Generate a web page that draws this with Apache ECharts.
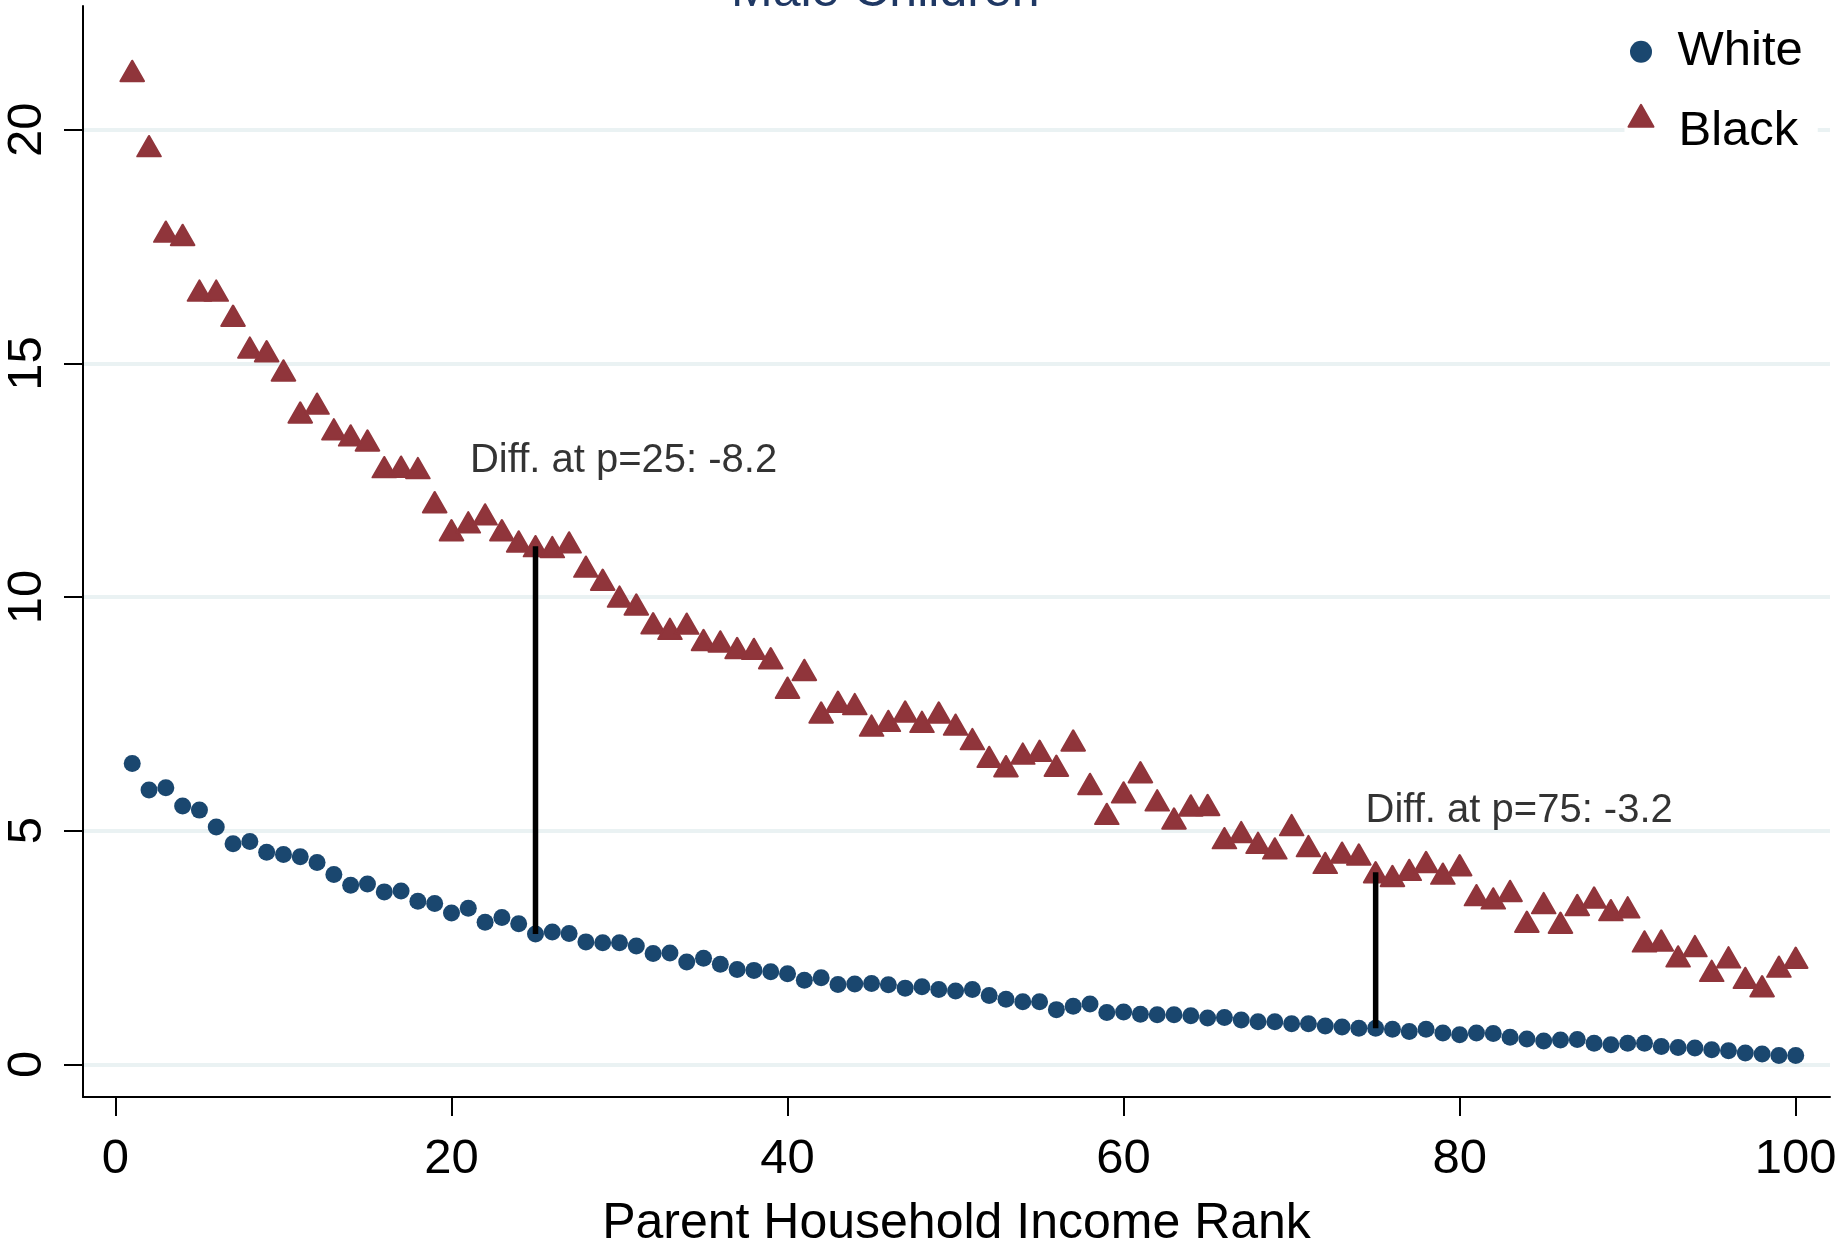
<!DOCTYPE html>
<html><head><meta charset="utf-8">
<script src="https://cdn.jsdelivr.net/npm/echarts@6/dist/echarts.min.js"></script>
<style>html,body{margin:0;padding:0;background:#fff}#c{width:1845px;height:1254px}</style>
</head><body><div id="c"></div>
<script>
const ranks = [1,2,3,4,5,6,7,8,9,10,11,12,13,14,15,16,17,18,19,20,
21,22,23,24,25,26,27,28,29,30,31,32,33,34,35,36,37,38,39,40,
41,42,43,44,45,46,47,48,49,50,51,52,53,54,55,56,57,58,59,60,
61,62,63,64,65,66,67,68,69,70,71,72,73,74,75,76,77,78,79,80,
81,82,83,84,85,86,87,88,89,90,91,92,93,94,95,96,97,98,99,100];

const whiteVals = [
6.44, 5.87, 5.92, 5.53, 5.44, 5.08, 4.72, 4.77, 4.54, 4.49,
4.44, 4.32, 4.06, 3.83, 3.86, 3.69, 3.71, 3.49, 3.44, 3.24,
3.34, 3.04, 3.14, 3.01, 2.79, 2.83, 2.80, 2.62, 2.60, 2.60,
2.53, 2.37, 2.38, 2.19, 2.27, 2.14, 2.03, 2.01, 1.98, 1.94,
1.80, 1.85, 1.71, 1.72, 1.73, 1.70, 1.63, 1.66, 1.60, 1.57,
1.60, 1.47, 1.39, 1.34, 1.34, 1.17, 1.24, 1.29, 1.11, 1.12,
1.07, 1.06, 1.06, 1.04, 0.99, 1.00, 0.95, 0.91, 0.91, 0.87,
0.87, 0.82, 0.80, 0.77, 0.77, 0.75, 0.70, 0.75, 0.67, 0.63,
0.67, 0.66, 0.58, 0.54, 0.50, 0.52, 0.53, 0.45, 0.42, 0.45,
0.45, 0.38, 0.36, 0.35, 0.31, 0.29, 0.24, 0.22, 0.19, 0.19];

const blackVals = [
21.26, 19.65, 17.82, 17.75, 16.56, 16.56, 16.02, 15.34, 15.26, 14.85,
13.95, 14.14, 13.59, 13.46, 13.35, 12.78, 12.79, 12.76, 12.03, 11.43,
11.60, 11.77, 11.43, 11.19, 11.09, 11.07, 11.17, 10.65, 10.37, 10.01,
9.84, 9.44, 9.32, 9.43, 9.08, 9.05, 8.91, 8.89, 8.69, 8.06,
8.44, 7.53, 7.76, 7.71, 7.25, 7.35, 7.55, 7.33, 7.53, 7.27,
6.96, 6.58, 6.38, 6.65, 6.71, 6.39, 6.93, 6.00, 5.36, 5.82,
6.25, 5.65, 5.26, 5.54, 5.55, 4.84, 4.97, 4.74, 4.62, 5.12,
4.67, 4.31, 4.53, 4.49, 4.11, 4.03, 4.16, 4.33, 4.08, 4.26,
3.62, 3.55, 3.71, 3.05, 3.45, 3.03, 3.41, 3.57, 3.30, 3.36,
2.63, 2.65, 2.31, 2.53, 2.00, 2.29, 1.85, 1.67, 2.09, 2.28];

const xTicks = [0, 20, 40, 60, 80, 100];
const yTicks = [0, 5, 10, 15, 20];
const diffRanks = [25, 75];
const annotX = [21.1, 74.4];
const annotY = [12.91, 5.43];
const annotText = ['Diff. at p=25: -8.2', 'Diff. at p=75: -3.2'];
const seriesNames = ['White', 'Black'];
const titleText = 'Male Children';
const xTitle = 'Parent Household Income Rank';

const FONT = '"Liberation Sans", Arial, Helvetica, sans-serif';
const NAVY = '#1a476f';
const MAROON = '#90353b';

const chart = echarts.init(document.getElementById('c'), null, {renderer: 'canvas'});

const diffSeries = diffRanks.map(function (p) {
  const i = ranks.indexOf(p);
  return {
    type: 'line', silent: true, symbol: 'none', z: 5,
    lineStyle: {color: '#000', width: 5.5},
    data: [[p, whiteVals[i]], [p, blackVals[i]]]
  };
});

chart.setOption({
  animation: false,
  backgroundColor: '#fff',
  textStyle: {fontFamily: FONT},
  title: {
    text: titleText, left: 726, top: -38,
    textStyle: {fontSize: 50, fontWeight: 'normal', color: '#1f3864', fontFamily: FONT}
  },
  grid: {left: 83, right: 15, top: 6, bottom: 154},
  legend: {
    data: seriesNames,
    orient: 'vertical', left: 1624.5, top: 15.2,
    padding: [12, 15, 12, 3], itemGap: 15.1, itemWidth: 25, itemHeight: 22,
    backgroundColor: '#fff', z: 10,
    formatter: function (name) {
      return name === seriesNames[1] ? '{s| }{t|' + name + '}' : '{t|' + name + '}';
    },
    textStyle: {
      fontSize: 49, fontFamily: FONT, color: '#000', padding: [0, 0, 0, 19],
      rich: {
        s: {width: 1, lineHeight: 80, fontSize: 49, verticalAlign: 'middle'},
        t: {fontSize: 49, lineHeight: 49, fontFamily: FONT, color: '#000', verticalAlign: 'bottom'}
      }
    }
  },
  xAxis: {
    type: 'value', min: -1.93, max: 102.04,
    name: xTitle, nameLocation: 'middle', nameGap: 102,
    nameTextStyle: {fontSize: 50, fontFamily: FONT, color: '#000'},
    axisLine: {show: true, onZero: false, lineStyle: {color: '#000', width: 2}},
    axisTick: {show: true, length: 19, customValues: xTicks, lineStyle: {color: '#000', width: 2}},
    axisLabel: {customValues: xTicks, margin: 38, fontSize: 49, color: '#000', fontFamily: FONT},
    splitLine: {show: false}
  },
  yAxis: {
    type: 'value', min: -0.70, max: 22.65,
    axisLine: {show: true, onZero: false, lineStyle: {color: '#000', width: 2}},
    axisTick: {show: true, length: 19, customValues: yTicks, lineStyle: {color: '#000', width: 2}},
    axisLabel: {customValues: yTicks, rotate: 90, margin: 31, fontSize: 49, color: '#000', fontFamily: FONT},
    splitLine: {show: true, lineStyle: {color: '#eaf2f3', width: 4}}
  },
  series: [
    {
      name: seriesNames[0], type: 'scatter', symbol: 'circle', symbolSize: 17, z: 3,
      itemStyle: {color: NAVY, opacity: 1},
      data: ranks.map(function (p, i) { return [p, whiteVals[i]]; })
    },
    {
      name: seriesNames[1], type: 'scatter', symbol: 'triangle', symbolSize: [23.5, 20.5], z: 3,
      itemStyle: {color: MAROON, opacity: 1, borderColor: MAROON, borderWidth: 2, borderJoin: 'round'},
      data: ranks.map(function (p, i) { return [p, blackVals[i]]; })
    }
  ].concat(diffSeries).concat([
    {
      type: 'scatter', silent: true, symbolSize: 0, z: 6,
      label: {
        show: true, position: 'right', distance: 0,
        fontSize: 40, color: '#000', fontFamily: FONT,
        formatter: function (d) { return annotText[d.dataIndex]; }
      },
      data: annotX.map(function (x, i) { return [x, annotY[i]]; })
    }
  ])
});
</script>
</body></html>
